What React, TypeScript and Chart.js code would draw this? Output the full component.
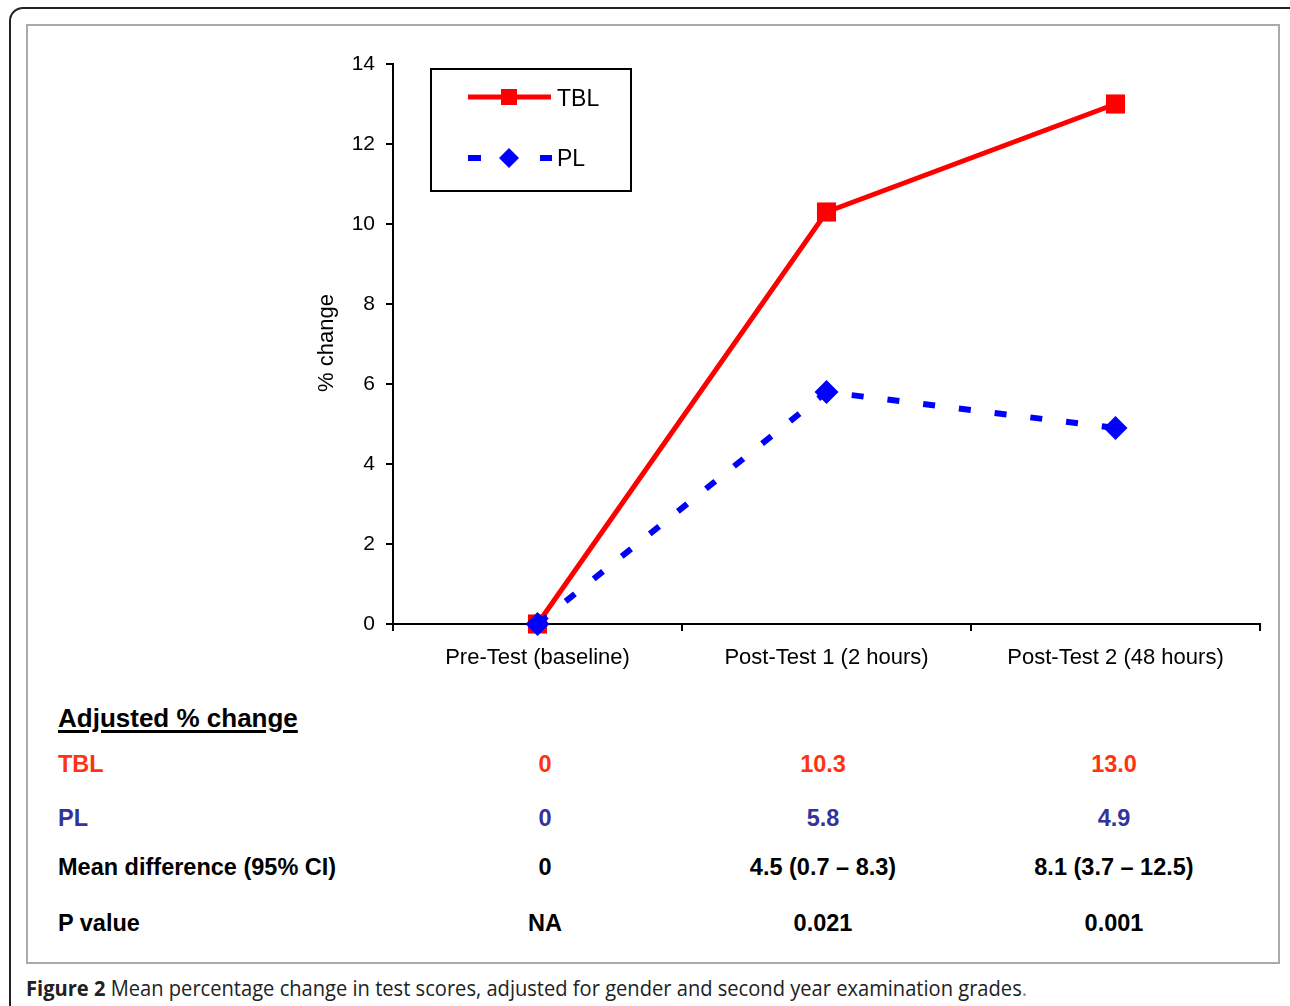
import React, { useEffect, useLayoutEffect, useRef } from "react";
import { Chart, registerables } from "chart.js";

Chart.register(...registerables);

const categories = ["Pre-Test (baseline)", "Post-Test 1 (2 hours)", "Post-Test 2 (48 hours)"];
const tblValues = [0, 10.3, 13.0];
const plValues = [0, 5.8, 4.9];
const yTicks = { min: 0, max: 14, step: 2 };
const yTitle = "% change";

const tableHeader = "Adjusted % change";
const rowLabels = ["TBL", "PL", "Mean difference (95% CI)", "P value"];
const tblRow = ["0", "10.3", "13.0"];
const plRow = ["0", "5.8", "4.9"];
const meanDiffRow = ["0", "4.5 (0.7 \u2013 8.3)", "8.1 (3.7 \u2013 12.5)"];
const pValueRow = ["NA", "0.021", "0.001"];
const captionBold = "Figure 2";
const captionText = " Mean percentage change in test scores, adjusted for gender and second year examination grades";

const FONT = "'Liberation Sans', Arial, Helvetica, sans-serif";
const RED = "#ff0000";
const BLUE = "#0000ff";

export default function App() {
  const ref = useRef<HTMLCanvasElement | null>(null);
  const capRef = useRef<HTMLSpanElement | null>(null);

  useLayoutEffect(() => {
    const el = capRef.current;
    if (!el) return;
    const w = el.getBoundingClientRect().width;
    if (w > 0) el.style.transform = `scaleX(${1001 / w})`;
  }, []);

  useEffect(() => {
    if (!ref.current) return;
    const overlay = {
      id: "overlay",
      afterDraw(chart: any) {
        const ctx = chart.ctx as CanvasRenderingContext2D;
        ctx.save();
        ctx.translate(327, 343);
        ctx.rotate(-Math.PI / 2);
        ctx.font = `22px ${FONT}`;
        ctx.fillStyle = "#000";
        ctx.textAlign = "center";
        ctx.textBaseline = "middle";
        ctx.fillText(yTitle, 0, 0);
        ctx.restore();

        ctx.save();
        ctx.strokeStyle = "#000";
        ctx.lineWidth = 2;
        ctx.strokeRect(431, 69, 200, 122);
        ctx.strokeStyle = RED;
        ctx.lineWidth = 5;
        ctx.beginPath();
        ctx.moveTo(468, 97);
        ctx.lineTo(551, 97);
        ctx.stroke();
        ctx.fillStyle = RED;
        ctx.fillRect(501, 89, 16, 16);
        ctx.fillStyle = BLUE;
        ctx.fillRect(468, 155, 13, 6);
        ctx.fillRect(540, 155, 12, 6);
        ctx.beginPath();
        ctx.moveTo(509, 148);
        ctx.lineTo(519, 158);
        ctx.lineTo(509, 168);
        ctx.lineTo(499, 158);
        ctx.closePath();
        ctx.fill();
        ctx.fillStyle = "#000";
        ctx.font = `23px ${FONT}`;
        ctx.textAlign = "left";
        ctx.textBaseline = "middle";
        ctx.fillText(chart.data.datasets[1].label, 557, 100);
        ctx.fillText(chart.data.datasets[0].label, 557, 160);
        ctx.restore();
      },
    };

    const chart = new Chart(ref.current, {
      type: "line",
      data: {
        labels: categories,
        datasets: [
          {
            label: "PL",
            data: plValues,
            borderColor: BLUE,
            backgroundColor: BLUE,
            borderWidth: 6,
            borderDash: [12, 24],
            pointStyle: "rectRot",
            pointRadius: 12,
            pointHoverRadius: 12,
            pointBorderWidth: 0,
            pointBackgroundColor: BLUE,
            tension: 0,
            clip: false as any,
            order: 0,
          },
          {
            label: "TBL",
            data: tblValues,
            borderColor: RED,
            backgroundColor: RED,
            borderWidth: 5,
            pointStyle: "rect",
            pointRadius: 13.5,
            pointHoverRadius: 13.5,
            pointBorderWidth: 0,
            pointBackgroundColor: RED,
            tension: 0,
            clip: false as any,
            order: 1,
          },
        ],
      },
      options: {
        responsive: false,
        animation: false,
        devicePixelRatio: 1,
        layout: { padding: { left: 313, top: 64, right: 30, bottom: 16 } },
        plugins: { legend: { display: false }, tooltip: { enabled: false }, title: { display: false } },
        scales: {
          x: {
            type: "category",
            offset: true,
            grid: { offset: true, drawOnChartArea: false, drawTicks: true, tickLength: 7, color: "#000", lineWidth: 2 },
            border: { display: true, color: "#000", width: 2 },
            ticks: { color: "#000", font: { family: FONT, size: 22 }, padding: 14, maxRotation: 0, autoSkip: false },
            afterFit: (s: any) => { s.height = 60; },
          },
          y: {
            min: yTicks.min,
            max: yTicks.max,
            grid: { drawOnChartArea: false, drawTicks: true, tickLength: 7, color: "#000", lineWidth: 2 },
            border: { display: true, color: "#000", width: 2 },
            ticks: { stepSize: yTicks.step, color: "#000", font: { family: FONT, size: 21 }, padding: 11 },
            afterFit: (s: any) => { s.width = 80; },
          },
        },
      },
      plugins: [overlay],
    });
    return () => chart.destroy();
  }, []);

  const colCenters = [545, 823, 1114];
  const rowY = [764, 818, 867, 923];
  const rowColors = ["#ff3311", "#333399", "#000", "#000"];
  const rows = [tblRow, plRow, meanDiffRow, pValueRow];

  return (
    <div style={{ position: "absolute", left: 0, top: 0, width: 1290, height: 1006, overflow: "hidden", background: "#fff", fontFamily: FONT }}>
      <div style={{ position: "absolute", left: 9, top: 7, width: 1320, height: 1040, border: "2px solid #222", borderRadius: 14, boxSizing: "border-box" }} />
      <div style={{ position: "absolute", left: 26, top: 24, width: 1254, height: 940, border: "2px solid #aaa", boxSizing: "border-box" }} />
      <canvas ref={ref} width={1290} height={700} style={{ position: "absolute", left: 0, top: 0, width: 1290, height: 700 }} />
      <div style={{ position: "absolute", left: 58, top: 718 - 16, lineHeight: "32px", fontSize: 26, fontWeight: "bold", textDecoration: "underline", textDecorationThickness: 3, textUnderlineOffset: 3, whiteSpace: "nowrap" }}>{tableHeader}</div>
      {rowLabels.map((l, i) => (
        <div key={l} style={{ position: "absolute", left: 58, top: rowY[i] - 15, lineHeight: "30px", fontSize: 23.5, fontWeight: "bold", color: rowColors[i], whiteSpace: "nowrap" }}>{l}</div>
      ))}
      {rows.map((r, i) =>
        r.map((v, j) => (
          <div key={`${i}-${j}`} style={{ position: "absolute", left: colCenters[j] - 150, width: 300, textAlign: "center", top: rowY[i] - 15, lineHeight: "30px", fontSize: 23.5, fontWeight: "bold", color: rowColors[i], whiteSpace: "nowrap" }}>{v}</div>
        ))
      )}
      <div style={{ position: "absolute", left: 26, top: 974, lineHeight: "26px", fontSize: 22, color: "#222", whiteSpace: "nowrap", fontFamily: "'Open Sans', sans-serif" }}>
        <span ref={capRef} style={{ display: "inline-block", transformOrigin: "0 50%" }}>
          <b>{captionBold}</b>{captionText}<span style={{ color: "#888" }}>.</span>
        </span>
      </div>
    </div>
  );
}
